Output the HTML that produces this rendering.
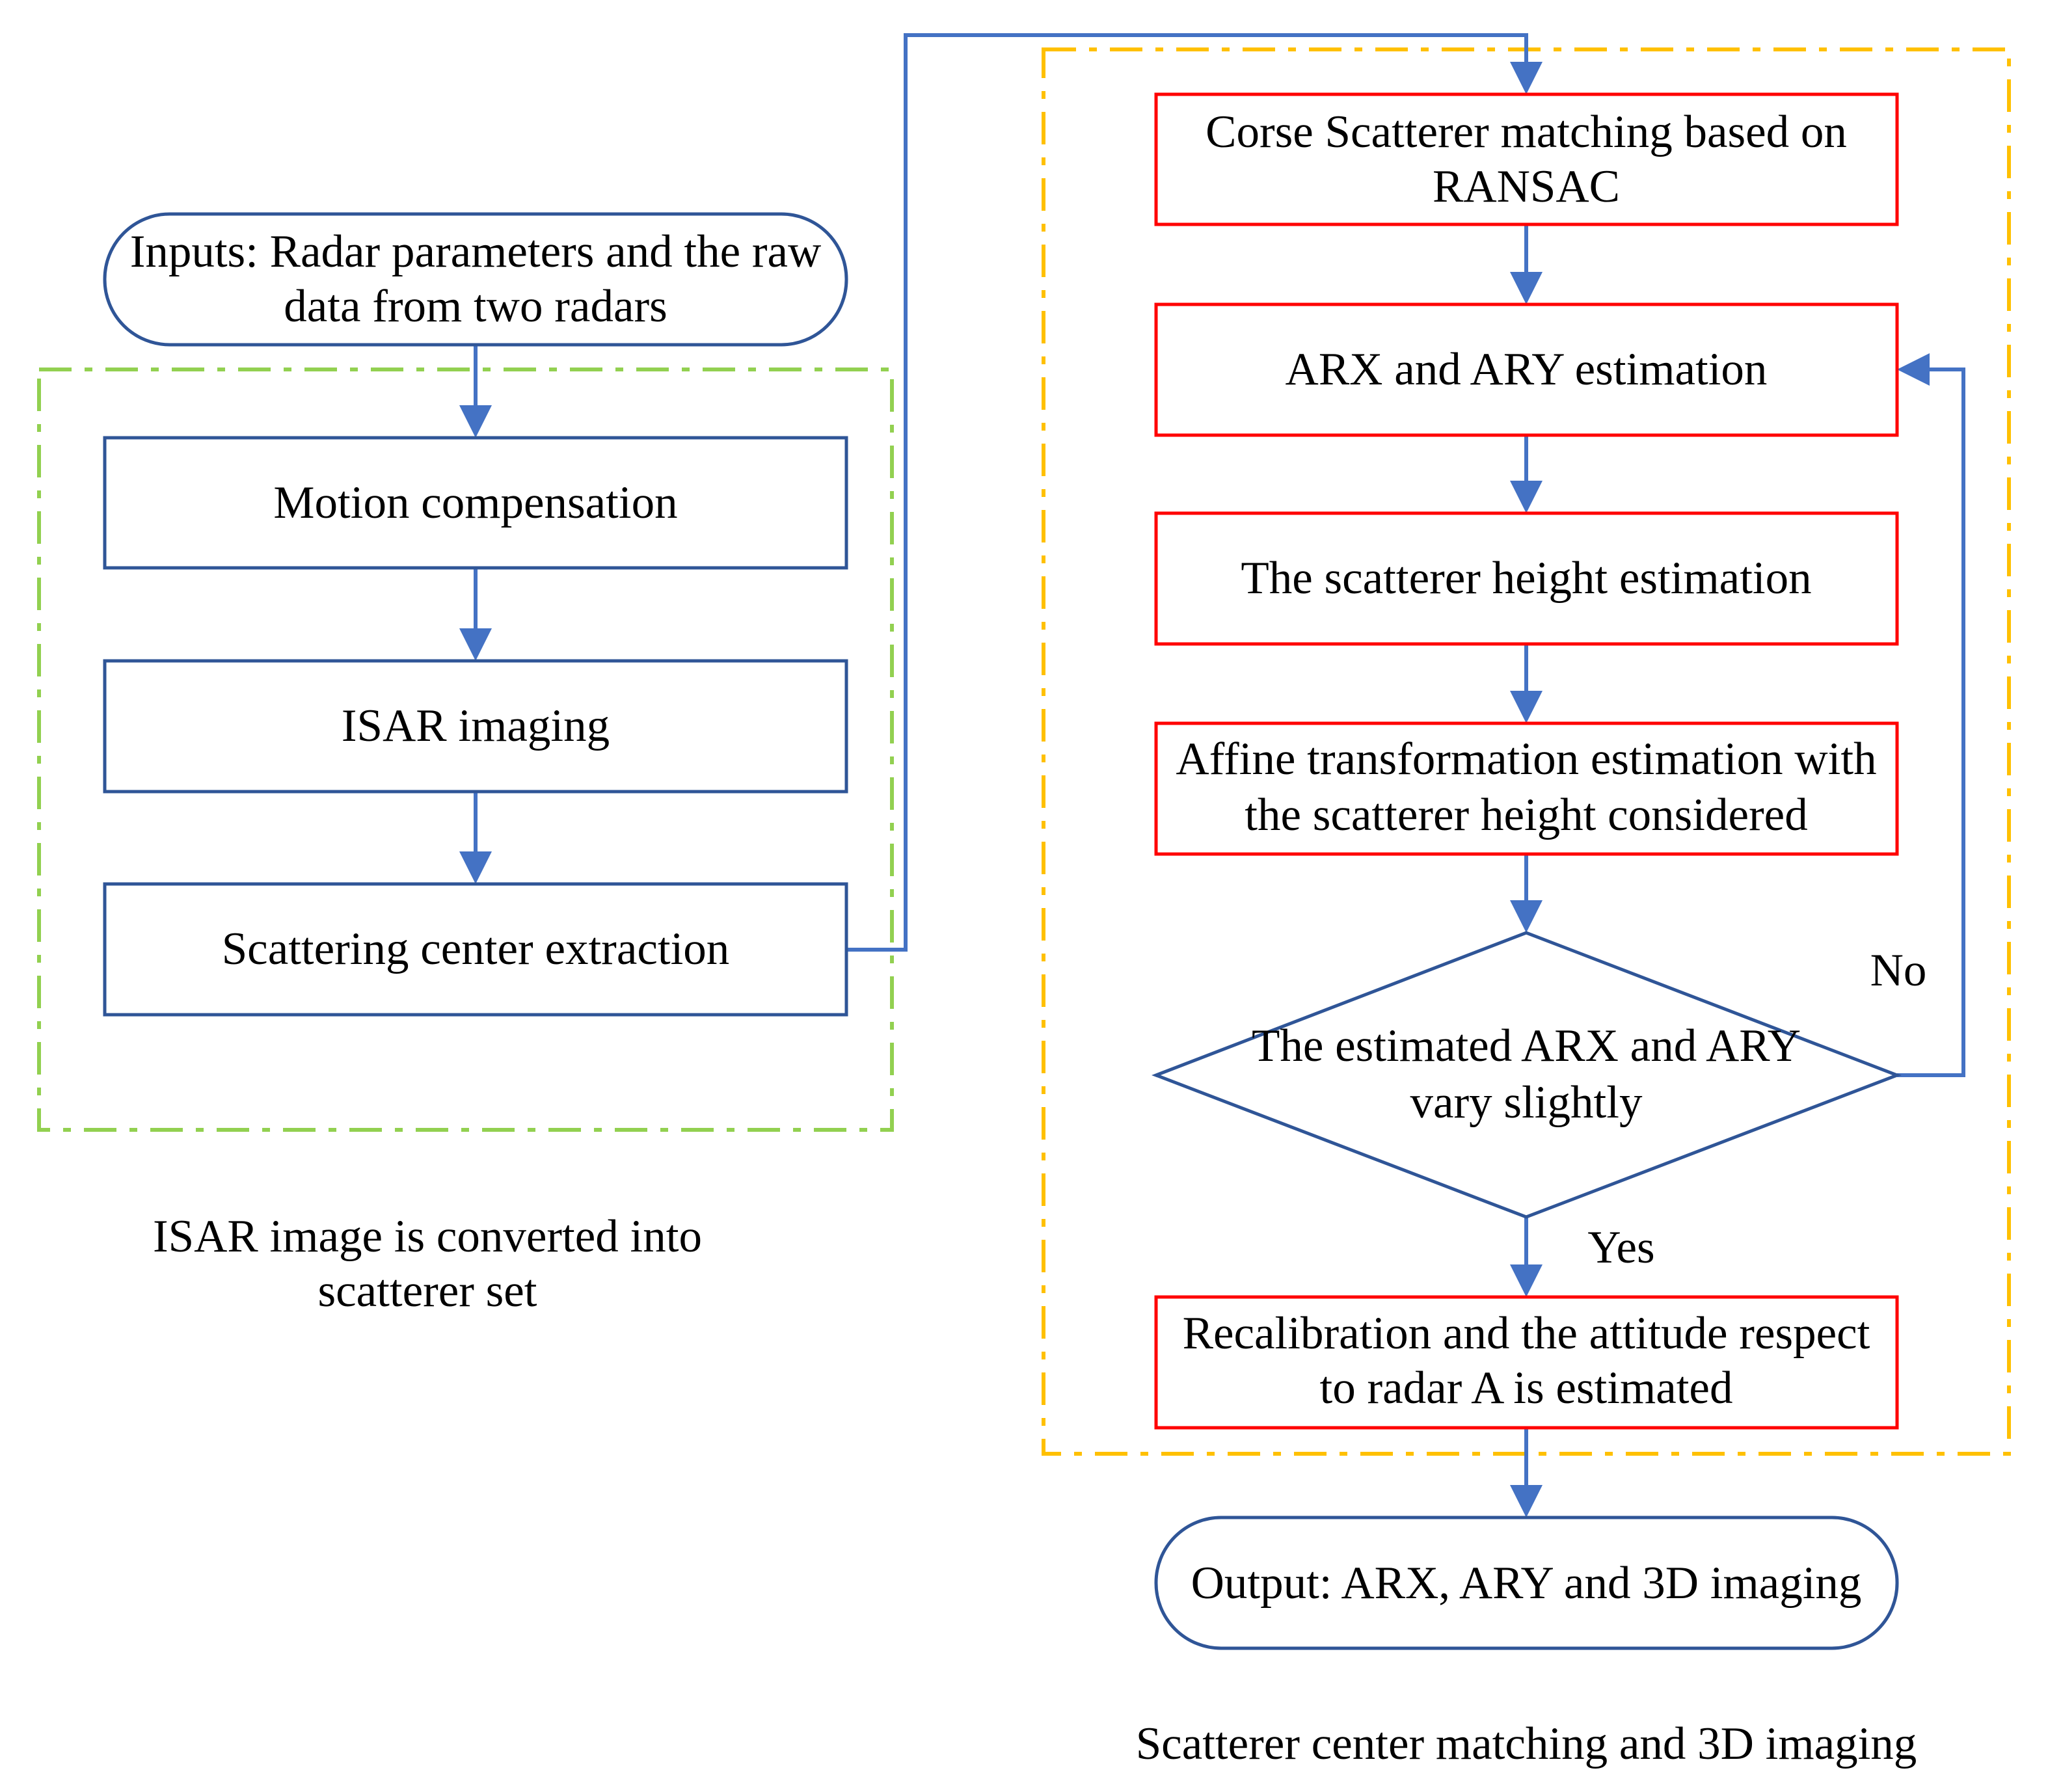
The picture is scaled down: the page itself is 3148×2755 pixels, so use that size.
<!DOCTYPE html>
<html><head><meta charset="utf-8"><style>html,body{margin:0;padding:0;background:#fff}svg{display:block}</style></head><body>
<svg width="3148" height="2755" viewBox="0 0 3148 2755" xmlns="http://www.w3.org/2000/svg" font-family="'Liberation Serif', serif" font-size="71" text-anchor="middle">
<!-- group boxes -->
<rect x="60" y="568" width="1311" height="1169" fill="none" stroke="#92D050" stroke-width="6" stroke-dasharray="50,20,12,20"/>
<rect x="1604" y="76" width="1484" height="2159" fill="none" stroke="#FFC000" stroke-width="6" stroke-dasharray="50,20,12,20"/>
<g stroke="#4472C4" stroke-width="6" fill="none">
<line x1="731" y1="530" x2="731" y2="623"/>
<line x1="731" y1="873" x2="731" y2="966"/>
<line x1="731" y1="1217" x2="731" y2="1309"/>
<polyline points="1301,1460 1392,1460 1392,54 2346,54 2346,96"/>
<line x1="2346" y1="345" x2="2346" y2="418"/>
<line x1="2346" y1="669" x2="2346" y2="739"/>
<line x1="2346" y1="990" x2="2346" y2="1062"/>
<line x1="2346" y1="1313" x2="2346" y2="1384"/>
<line x1="2346" y1="1871" x2="2346" y2="1944"/>
<line x1="2346" y1="2195" x2="2346" y2="2283"/>
<polyline points="2916,1653 3018,1653 3018,568 2966,568"/>
</g>
<g fill="#4472C4">
<path d="M706,623 L756,623 L731,673 z"/>
<path d="M706,966 L756,966 L731,1016 z"/>
<path d="M706,1309 L756,1309 L731,1359 z"/>
<path d="M2321,95 L2371,95 L2346,145 z"/>
<path d="M2321,418 L2371,418 L2346,468 z"/>
<path d="M2321,739 L2371,739 L2346,789 z"/>
<path d="M2321,1062 L2371,1062 L2346,1112 z"/>
<path d="M2321,1384 L2371,1384 L2346,1434 z"/>
<path d="M2321,1944 L2371,1944 L2346,1994 z"/>
<path d="M2321,2283 L2371,2283 L2346,2333 z"/>
<path d="M2966,543 L2966,593 L2916,568 z"/>
</g>
<g fill="#fff" stroke="#2F5597" stroke-width="5">
<rect x="161" y="329" width="1140" height="201" rx="100" ry="100"/>
<rect x="161" y="673" width="1140" height="200"/>
<rect x="161" y="1016" width="1140" height="201"/>
<rect x="161" y="1359" width="1140" height="201"/>
<polygon points="1777,1653 2346,1434 2916,1653 2346,1871"/>
<rect x="1777" y="2333" width="1139" height="201" rx="100" ry="100"/>
</g>
<g fill="#fff" stroke="#FF0000" stroke-width="5">
<rect x="1777" y="145" width="1139" height="200"/>
<rect x="1777" y="468" width="1139" height="201"/>
<rect x="1777" y="789" width="1139" height="201"/>
<rect x="1777" y="1112" width="1139" height="201"/>
<rect x="1777" y="1994" width="1139" height="201"/>
</g>
<g fill="#000">
<text x="731" y="410">Inputs: Radar parameters and the raw</text>
<text x="731" y="494">data from two radars</text>
<text x="731" y="796">Motion compensation</text>
<text x="731" y="1139">ISAR imaging</text>
<text x="731" y="1482">Scattering center extraction</text>
<text x="657" y="1924">ISAR image is converted into</text>
<text x="657" y="2008">scatterer set</text>
<text x="2346" y="226">Corse Scatterer matching based on</text>
<text x="2346" y="310">RANSAC</text>
<text x="2346" y="591">ARX and ARY estimation</text>
<text x="2346" y="912">The scatterer height estimation</text>
<text x="2346" y="1190">Affine transformation estimation with</text>
<text x="2346" y="1276">the scatterer height considered</text>
<text x="2346" y="1631">The estimated ARX and ARY</text>
<text x="2346" y="1718">vary slightly</text>
<text x="2918" y="1515">No</text>
<text x="2492" y="1941">Yes</text>
<text x="2346" y="2073">Recalibration and the attitude respect</text>
<text x="2346" y="2157">to radar A is estimated</text>
<text x="2346" y="2457">Output: ARX, ARY and 3D imaging</text>
<text x="2346" y="2704">Scatterer center matching and 3D imaging</text>
</g>
</svg>
</body></html>
